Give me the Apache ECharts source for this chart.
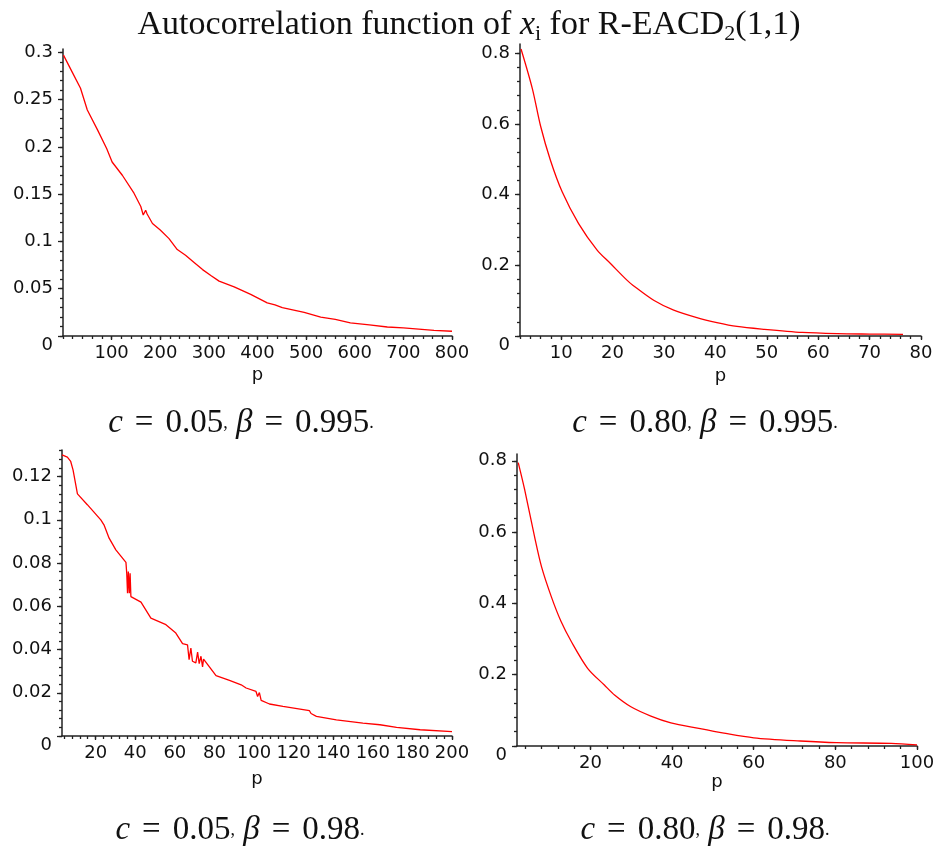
<!DOCTYPE html>
<html>
<head>
<meta charset="utf-8">
<script src="https://cdn.jsdelivr.net/npm/echarts@6/dist/echarts.min.js"></script>
<style>
  html, body { margin: 0; padding: 0; background: #fff; }
  #chart { width: 938px; height: 848px; }
</style>
</head>
<body>
<div id="chart"></div>
<script>
// Sample autocorrelation of x_i, R-EACD2(1,1), four parameter settings

// c = 0.05, beta = 0.995
const lagsA = [1, 3, 20, 36, 50, 71, 90, 101, 122, 146, 160, 165, 168, 170, 173, 176, 184, 200, 218, 235, 252, 269, 287, 304, 321, 352, 386, 420, 436, 451, 496, 500, 530, 560, 591, 630, 667, 700, 763, 800];
const acfA  = [0.297, 0.295, 0.278, 0.262, 0.239, 0.218, 0.198, 0.184, 0.170, 0.151, 0.137, 0.128, 0.126, 0.133, 0.129, 0.127, 0.119, 0.112, 0.103, 0.0914, 0.0854, 0.078, 0.0702, 0.064, 0.058, 0.052, 0.044, 0.035, 0.033, 0.030, 0.025, 0.0235, 0.020, 0.0175, 0.0138, 0.0118, 0.0095, 0.0085, 0.006, 0.005];

// c = 0.80, beta = 0.995
const lagsB = [2.2, 4.4, 6, 7.9, 10.2, 13.4, 17, 19.6, 22.8, 24, 28, 31.9, 36.4, 40.3, 44.2, 49.4, 56.9, 63.7, 70, 76.5];
const acfB  = [0.812, 0.70, 0.594, 0.498, 0.408, 0.318, 0.243, 0.205, 0.158, 0.143, 0.101, 0.073, 0.052, 0.038, 0.027, 0.019, 0.010, 0.0066, 0.0055, 0.0047];

// c = 0.05, beta = 0.98
const lagsC = [3, 5.7, 7.4, 8.6, 10.8, 15.8, 22.6, 24.2, 26.8, 30.2, 35.3, 35.7, 36.1, 36.5, 37, 37.4, 37.8, 42.9, 47.9, 55.5, 60.5, 63.9, 66.4, 67.2, 68.1, 68.9, 70.6, 71.5, 72.3, 73.2, 74, 74.5, 80.8, 87.6, 93.5, 96, 101, 101.8, 102.7, 103.6, 107.8, 114.6, 128, 128.8, 131.5, 141.6, 155, 163.6, 172, 183.9, 200];
const acfC  = [0.130, 0.129, 0.127, 0.123, 0.112, 0.107, 0.100, 0.0977, 0.0915, 0.0861, 0.0803, 0.0753, 0.066, 0.0761, 0.066, 0.0753, 0.0645, 0.0619, 0.0545, 0.0515, 0.0476, 0.0427, 0.0422, 0.0353, 0.0407, 0.0346, 0.0338, 0.0388, 0.0335, 0.0369, 0.0320, 0.0356, 0.0279, 0.0257, 0.0237, 0.0222, 0.0206, 0.0183, 0.0201, 0.0165, 0.0148, 0.0137, 0.0117, 0.0104, 0.0091, 0.0075, 0.0060, 0.0052, 0.0040, 0.0029, 0.0020];

// c = 0.80, beta = 0.98
const lagsD = [2.3, 3.9, 6.3, 8, 10.4, 12.8, 15.3, 19.3, 23.4, 25.9, 29.9, 34.8, 39.7, 46.2, 52.7, 60, 71.4, 80.3, 93.7, 100];
const acfD  = [0.795, 0.718, 0.587, 0.503, 0.419, 0.349, 0.293, 0.218, 0.171, 0.143, 0.110, 0.084, 0.065, 0.050, 0.036, 0.023, 0.014, 0.0093, 0.0075, 0.003];

// tick labels
const xTicksA = [100, 200, 300, 400, 500, 600, 700, 800];
const yTicksA = [0, 0.05, 0.1, 0.15, 0.2, 0.25, 0.3];
const xTicksB = [10, 20, 30, 40, 50, 60, 70, 80];
const yTicksB = [0, 0.2, 0.4, 0.6, 0.8];
const xTicksC = [20, 40, 60, 80, 100, 120, 140, 160, 180, 200];
const yTicksC = [0, 0.02, 0.04, 0.06, 0.08, 0.1, 0.12];
const xTicksD = [20, 40, 60, 80, 100];
const yTicksD = [0, 0.2, 0.4, 0.6, 0.8];

const captions = [
  '{i|c}{e|=}0.05{s|,} {i|β}{e|=}0.995{s|.}',
  '{i|c}{e|=}0.80{s|,} {i|β}{e|=}0.995{s|.}',
  '{i|c}{e|=}0.05{s|,} {i|β}{e|=}0.98{s|.}',
  '{i|c}{e|=}0.80{s|,} {i|β}{e|=}0.98{s|.}'
];

const panels = [
  { lags: lagsA, acf: acfA, xT: xTicksA, yT: yTicksA, xMin: 0, xMax: 800, yMax: 0.3035, xMinor: 20, yMinor: 0.01,
    grid: { left: 63, top: 49, width: 389, height: 287 }, nameGap: 30, smooth: false, cap: [236, 418] },
  { lags: lagsB, acf: acfB, xT: xTicksB, yT: yTicksB, xMin: 2, xMax: 80, yMax: 0.826, xMinor: 2, yMinor: 0.04,
    grid: { left: 520, top: 44, width: 401, height: 292 }, nameGap: 31, smooth: 0.3, cap: [700, 418] },
  { lags: lagsC, acf: acfC, xT: xTicksC, yT: yTicksC, xMin: 3, xMax: 200, yMax: 0.1323, xMinor: 4, yMinor: 0.004,
    grid: { left: 62, top: 450, width: 390, height: 286 }, nameGap: 34, smooth: false, cap: [235, 825] },
  { lags: lagsD, acf: acfD, xT: xTicksD, yT: yTicksD, xMin: 2, xMax: 100, yMax: 0.819, xMinor: 4, yMinor: 0.04,
    grid: { left: 517, top: 454, width: 400, height: 292 }, nameGap: 14, smooth: 0.3, cap: [700, 825] }
];

const labelFont = 'DejaVu Sans';
const serif = 'Liberation Serif';
const axisColor = '#222';

function minorSteps(min, max, step) {
  const out = [];
  const start = Math.ceil(min / step - 1e-9);
  for (let k = start; k * step <= max + 1e-9; k++) out.push(+(k * step).toFixed(6));
  return out;
}

const grids = [], xAxes = [], yAxes = [], series = [], titles = [];

titles.push({
  text: 'Autocorrelation function of {i|x}{sub|i} for R-EACD{sub|2}(1,1)',
  left: 'center', top: 1,
  textStyle: {
    fontFamily: serif, fontSize: 34, fontWeight: 'normal', color: '#111', lineHeight: 39,
    rich: {
      i: { fontFamily: serif, fontStyle: 'italic', fontSize: 34, color: '#111', lineHeight: 39 },
      sub: { fontFamily: serif, fontSize: 22, color: '#111', verticalAlign: 'bottom' }
    }
  }
});

panels.forEach((pn, k) => {
  grids.push(pn.grid);
  const fmtY = v => (v === 0 ? '{z|0}' : String(+v.toFixed(4)));
  xAxes.push({
    type: 'value', gridIndex: k, position: 'bottom', min: pn.xMin, max: pn.xMax,
    name: 'p', nameLocation: 'middle', nameGap: pn.nameGap,
    nameTextStyle: { fontFamily: labelFont, fontSize: 18, color: '#111' },
    axisLine: { show: true, onZero: false, lineStyle: { color: axisColor, width: 1.5 } },
    axisTick: { show: true, customValues: pn.xT, length: 4, lineStyle: { color: axisColor, width: 1.3 } },
    axisLabel: { customValues: pn.xT, margin: 8, fontFamily: labelFont, fontSize: 18, color: '#111' },
    splitLine: { show: false }
  });
  xAxes.push({
    type: 'value', gridIndex: k, position: 'bottom', min: pn.xMin, max: pn.xMax,
    axisLine: { show: false },
    axisTick: { show: true, customValues: minorSteps(pn.xMin, pn.xMax, pn.xMinor), length: 3, lineStyle: { color: axisColor, width: 1.3 } },
    axisLabel: { show: false },
    splitLine: { show: false }
  });
  yAxes.push({
    type: 'value', gridIndex: k, position: 'left', min: 0, max: pn.yMax,
    axisLine: { show: true, onZero: false, lineStyle: { color: axisColor, width: 1.5 } },
    axisTick: { show: true, customValues: pn.yT, length: 5, lineStyle: { color: axisColor, width: 1.3 } },
    axisLabel: {
      customValues: pn.yT, margin: 10, fontFamily: labelFont, fontSize: 18, color: '#111',
      formatter: fmtY,
      rich: { z: { fontFamily: labelFont, fontSize: 18, color: '#111', padding: [18, 0, 0, 0] } }
    },
    splitLine: { show: false }
  });
  yAxes.push({
    type: 'value', gridIndex: k, position: 'left', min: 0, max: pn.yMax,
    axisLine: { show: false },
    axisTick: { show: true, customValues: minorSteps(0, pn.yMax, pn.yMinor), length: 3, lineStyle: { color: axisColor, width: 1.3 } },
    axisLabel: { show: false },
    splitLine: { show: false }
  });
  series.push({
    type: 'line', xAxisIndex: 2 * k, yAxisIndex: 2 * k,
    data: pn.lags.map((p, j) => [p, pn.acf[j]]),
    showSymbol: false, symbol: 'none', smooth: pn.smooth,
    lineStyle: { color: '#ff0000', width: 1.3 },
    clip: true, animation: false
  });
  titles.push({
    text: captions[k],
    left: pn.cap[0], top: pn.cap[1], textAlign: 'center', textVerticalAlign: 'middle',
    textStyle: {
      fontFamily: serif, fontSize: 33, fontWeight: 'normal', color: '#111',
      rich: {
        i: { fontFamily: serif, fontStyle: 'italic', fontSize: 33, color: '#111' },
        e: { fontFamily: serif, fontSize: 33, color: '#111', padding: [0, 12, 0, 12] },
        s: { fontFamily: serif, fontSize: 18, color: '#111' }
      }
    }
  });
});

const chart = echarts.init(document.getElementById('chart'), null, { renderer: 'canvas' });
chart.setOption({
  backgroundColor: '#fff',
  animation: false,
  title: titles,
  grid: grids,
  xAxis: xAxes,
  yAxis: yAxes,
  series: series
});
</script>
</body>
</html>
